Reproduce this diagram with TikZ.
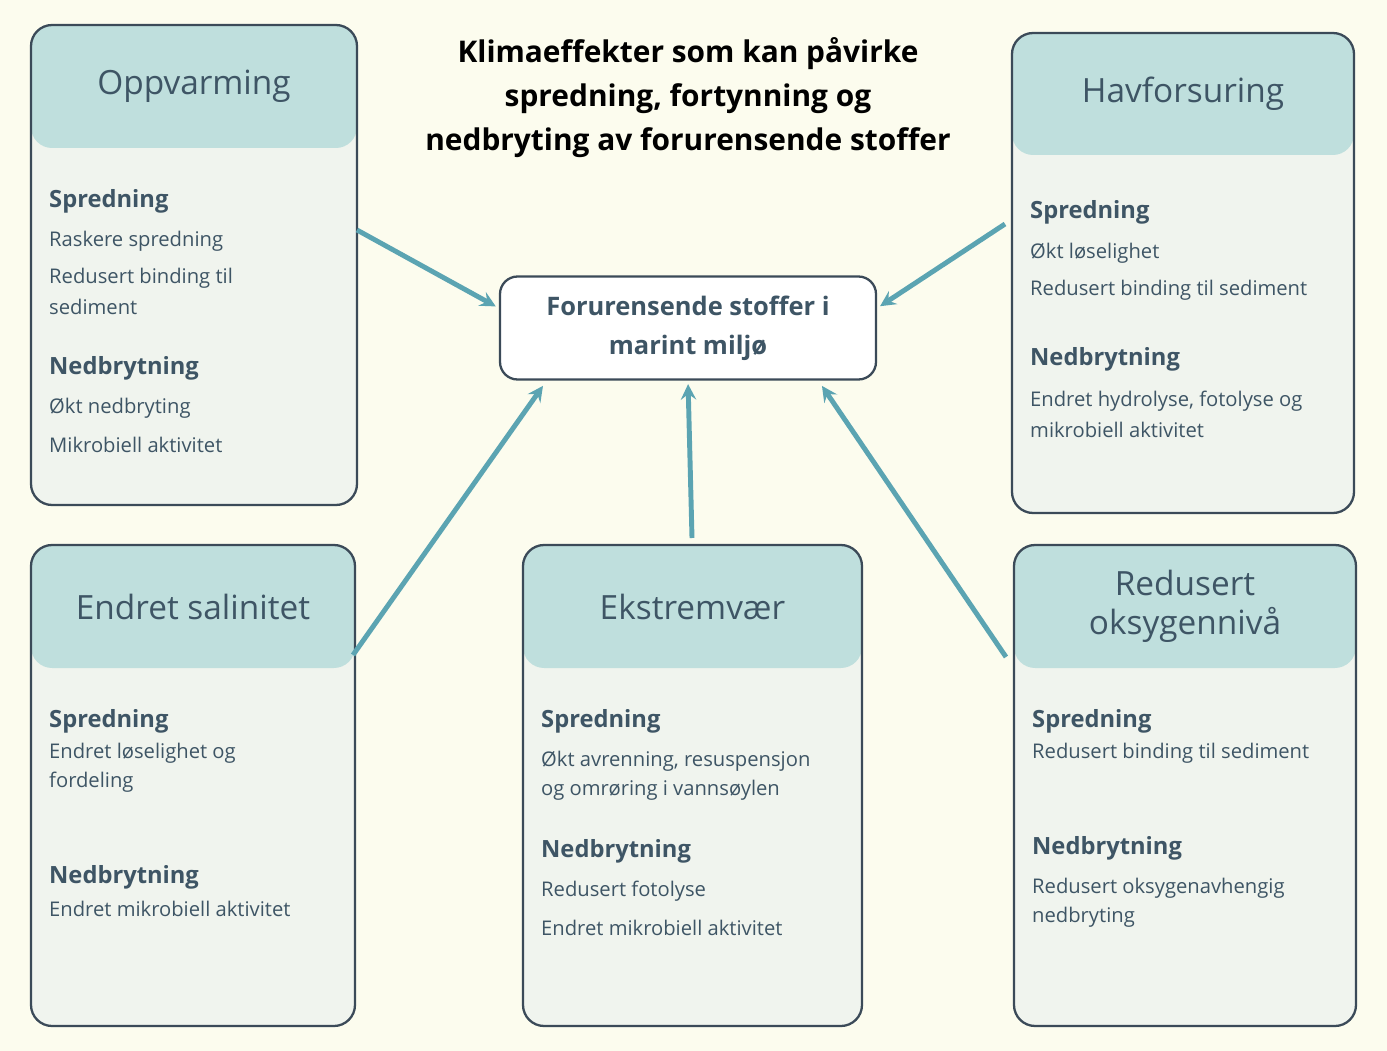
\documentclass[tikz,border=0pt]{standalone}
\usepackage{fontspec}
\setmainfont{Open Sans}
\definecolor{bakgrunn}{HTML}{FCFCEE}
\definecolor{boksfyll}{HTML}{F0F4EE}
\definecolor{hode}{HTML}{BFDFDD}
\definecolor{kant}{HTML}{3B4A58}
\definecolor{tekst}{HTML}{3E5565}
\definecolor{pil}{HTML}{5BA4B2}
\newcommand{\klimaboks}[7]{%
  \begin{scope}
    \clip[rounded corners=12pt] (#1,#2) rectangle (#3,#4);
    \fill[boksfyll] (#1,#2) rectangle (#3,#4);
    \fill[hode,rounded corners=12pt] (#1,#2) rectangle (#3,#5);
    \fill[hode] (#1,#2) rectangle (#3,#5-30);
  \end{scope}
  \draw[kant,line width=1.3pt,rounded corners=12pt] (#1,#2) rectangle (#3,#4);
  \node[overskrift] at ({(#1+#3)/2},{(#2+#5)/2}) {#6};
}
\begin{document}
\begin{tikzpicture}[x=0.02cm,y=-0.02cm,>=stealth]
\tikzset{
  overskrift/.style={text=tekst,font=\fontsize{19}{22}\selectfont,align=center},
  del/.style={anchor=west,text=tekst,font=\bfseries\fontsize{13.5}{16}\selectfont},
  linje/.style={anchor=west,text=tekst,font=\fontsize{11.5}{14}\selectfont},
  pilen/.style={->,pil,line width=2.8pt,shorten >=2pt}
}
\fill[bakgrunn] (0,0) rectangle (1387,1051);
% tittel
\node[font=\bfseries\fontsize{17}{25}\selectfont,align=center] (tittel) at (688,98)
  {Klimaeffekter som kan påvirke\\spredning, fortynning og\\nedbryting av forurensende stoffer};
% midten
\node[draw=kant,line width=1.3pt,fill=white,rounded corners=10pt,minimum width=376*0.02cm,
  minimum height=103*0.02cm,text=tekst,align=center,font=\bfseries\fontsize{14.5}{22}\selectfont]
  (stoffer) at (688,328) {Forurensende stoffer i\\marint miljø};
% bokser
\klimaboks{31}{25}{357}{505}{148}{Oppvarming}{}
\klimaboks{1012}{33}{1354}{513}{155}{Havforsuring}{}
\klimaboks{31}{545}{355}{1026}{668}{Endret salinitet}{}
\klimaboks{523}{545}{862}{1026}{668}{Ekstremvær}{}
\klimaboks{1014}{545}{1356}{1026}{668}{Redusert\\oksygennivå}{}
% oppvarming
\node[del] (o1) at (43,201) {Spredning};
\node[linje] (o2) at (43,241) {Raskere spredning};
\node[linje] (o3) at (43,278) {Redusert binding til};
\node[linje] (o4) at (43,307) {sediment};
\node[del] (o5) at (43,368) {Nedbrytning};
\node[linje] (o6) at (43,408) {Økt nedbryting};
\node[linje] (o7) at (43,445) {Mikrobiell aktivitet};
% havforsuring
\node[del] (h1) at (1024,212) {Spredning};
\node[linje] (h2) at (1024,253) {Økt løselighet};
\node[linje] (h3) at (1024,290) {Redusert binding til sediment};
\node[del] (h4) at (1024,359) {Nedbrytning};
\node[linje] (h5) at (1024,401) {Endret hydrolyse, fotolyse og};
\node[linje] (h6) at (1024,430) {mikrobiell aktivitet};
% salinitet
\node[del] (s1) at (43,721) {Spredning};
\node[linje] (s2) at (43,753) {Endret løselighet og};
\node[linje] (s3) at (43,782) {fordeling};
\node[del] (s4) at (43,877) {Nedbrytning};
\node[linje] (s5) at (43,909) {Endret mikrobiell aktivitet};
% ekstremvær
\node[del] (e1) at (535,721) {Spredning};
\node[linje] (e2) at (535,761) {Økt avrenning, resuspensjon};
\node[linje] (e3) at (535,790) {og omrøring i vannsøylen};
\node[del] (e4) at (535,851) {Nedbrytning};
\node[linje] (e5) at (535,891) {Redusert fotolyse};
\node[linje] (e6) at (535,928) {Endret mikrobiell aktivitet};
% oksygen
\node[del] (k1) at (1026,721) {Spredning};
\node[linje] (k2) at (1026,753) {Redusert binding til sediment};
\node[del] (k3) at (1026,848) {Nedbrytning};
\node[linje] (k4) at (1026,888) {Redusert oksygenavhengig};
\node[linje] (k5) at (1026,917) {nedbryting};
% piler
\coordinate (fraO) at (357,230);
\coordinate (fraH) at (1005,224);
\coordinate (fraS) at (353,655);
\coordinate (fraE) at (692,538);
\coordinate (fraK) at (1006,657);
\draw[pilen] (fraO) -- (stoffer.174);
\draw[pilen] (fraH) -- (stoffer.6);
\draw[pilen] (fraS) -- (545,383);
\draw[pilen] (fraE) -- (stoffer.south);
\draw[pilen] (fraK) -- (820,383);
\end{tikzpicture}
\end{document}
